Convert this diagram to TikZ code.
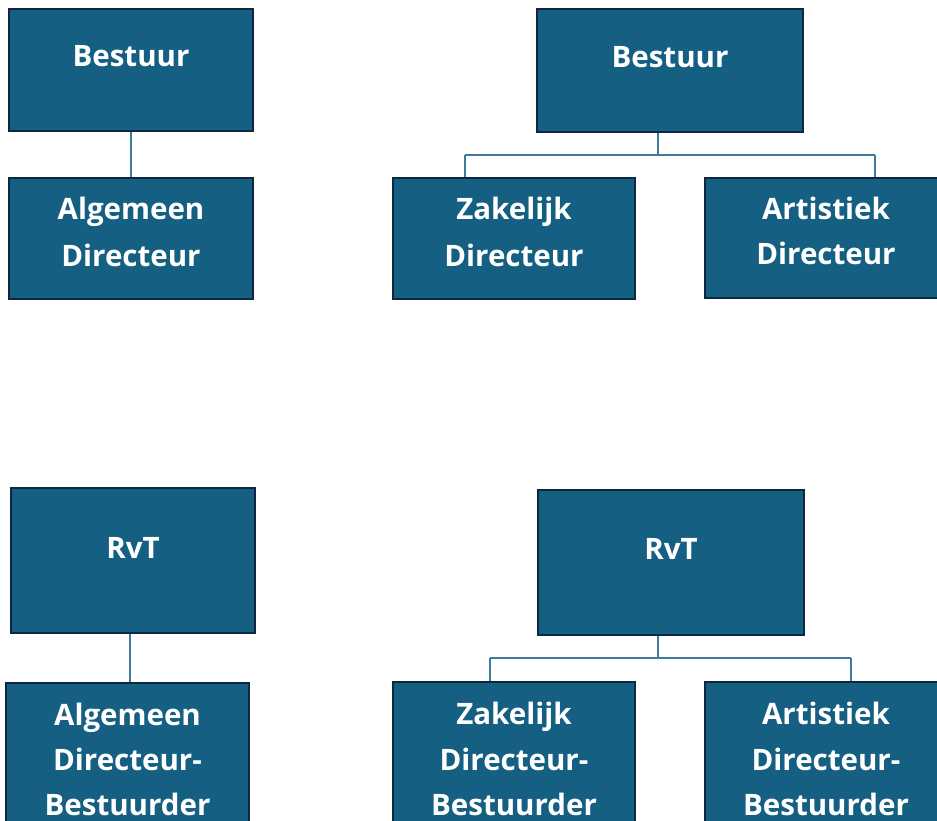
\documentclass[tikz,border=0pt]{standalone}
\usepackage{fontspec}
\setmainfont{Open Sans}
\definecolor{boxfill}{HTML}{156082}
\definecolor{boxline}{HTML}{0E2841}
\definecolor{conn}{HTML}{3E7A99}
\begin{document}
\begin{tikzpicture}[x=1pt,y=-1pt,
  orgbox/.style={draw=boxline,fill=boxfill,line width=2.4pt,rectangle,inner sep=0pt},
  orgtxt/.style={text=white,font=\fontsize{29.5}{45}\selectfont\bfseries,anchor=base,inner sep=0pt},
  conline/.style={draw=conn,line width=1.1pt}]
\useasboundingbox (0,0) rectangle (937,821);
\clip (0,0) rectangle (937,821);
% boxes
\node[orgbox,minimum width=244pt,minimum height=122pt] (b1) at (131,70) {};
\node[orgbox,minimum width=244pt,minimum height=121pt] (d1) at (131,238.5) {};
\node[orgbox,minimum width=266pt,minimum height=123pt] (b2) at (670,70.5) {};
\node[orgbox,minimum width=242pt,minimum height=121pt] (z2) at (514,238.5) {};
\node[orgbox,minimum width=242pt,minimum height=120pt] (a2) at (826,238) {};
\node[orgbox,minimum width=244pt,minimum height=145pt] (r3) at (133,560.5) {};
\node[orgbox,minimum width=243pt,minimum height=150pt] (d3) at (127.5,758) {};
\node[orgbox,minimum width=266pt,minimum height=145pt] (r4) at (671,562.5) {};
\node[orgbox,minimum width=242pt,minimum height=150pt] (z4) at (514,757) {};
\node[orgbox,minimum width=242pt,minimum height=150pt] (a4) at (826,757) {};
% texts
\node[orgtxt] (tb1) at (131,67) {Bestuur};
\node[orgtxt] (td1a) at (131,220) {Algemeen};
\node[orgtxt] (td1b) at (131,266) {Directeur};
\node[orgtxt] (tb2) at (670,68) {Bestuur};
\node[orgtxt] (tz2a) at (514,220) {Zakelijk};
\node[orgtxt] (tz2b) at (514,266) {Directeur};
\node[orgtxt] (ta2a) at (826,220) {Artistiek};
\node[orgtxt] (ta2b) at (826,265) {Directeur};
\node[orgtxt] (tr3) at (133,558) {RvT};
\node[orgtxt] (td3a) at (127.5,725) {Algemeen};
\node[orgtxt] (td3b) at (127.5,770) {Directeur-};
\node[orgtxt] (td3c) at (127.5,815) {Bestuurder};
\node[orgtxt] (tr4) at (671,559) {RvT};
\node[orgtxt] (tz4a) at (514,724) {Zakelijk};
\node[orgtxt] (tz4b) at (514,770) {Directeur-};
\node[orgtxt] (tz4c) at (514,815) {Bestuurder};
\node[orgtxt] (ta4a) at (826,724) {Artistiek};
\node[orgtxt] (ta4b) at (826,770) {Directeur-};
\node[orgtxt] (ta4c) at (826,815) {Bestuurder};
% connectors
\draw[conline] (b1.south) -- (d1.north -| b1.south);
\draw[conline] (r3.south -| 130,0) -- (d3.north -| 130,0);
\coordinate (h2) at (658,155);
\draw[conline] (b2.south -| h2) -- (h2);
\draw[conline] (465,155) coordinate (h2l) -- (875,155) coordinate (h2r);
\draw[conline] (h2l) -- (z2.north -| h2l);
\draw[conline] (h2r) -- (a2.north -| h2r);
\coordinate (h4) at (658,658);
\draw[conline] (r4.south -| h4) -- (h4);
\draw[conline] (490,658) coordinate (h4l) -- (851,658) coordinate (h4r);
\draw[conline] (h4l) -- (z4.north -| h4l);
\draw[conline] (h4r) -- (a4.north -| h4r);
\end{tikzpicture}
\end{document}
